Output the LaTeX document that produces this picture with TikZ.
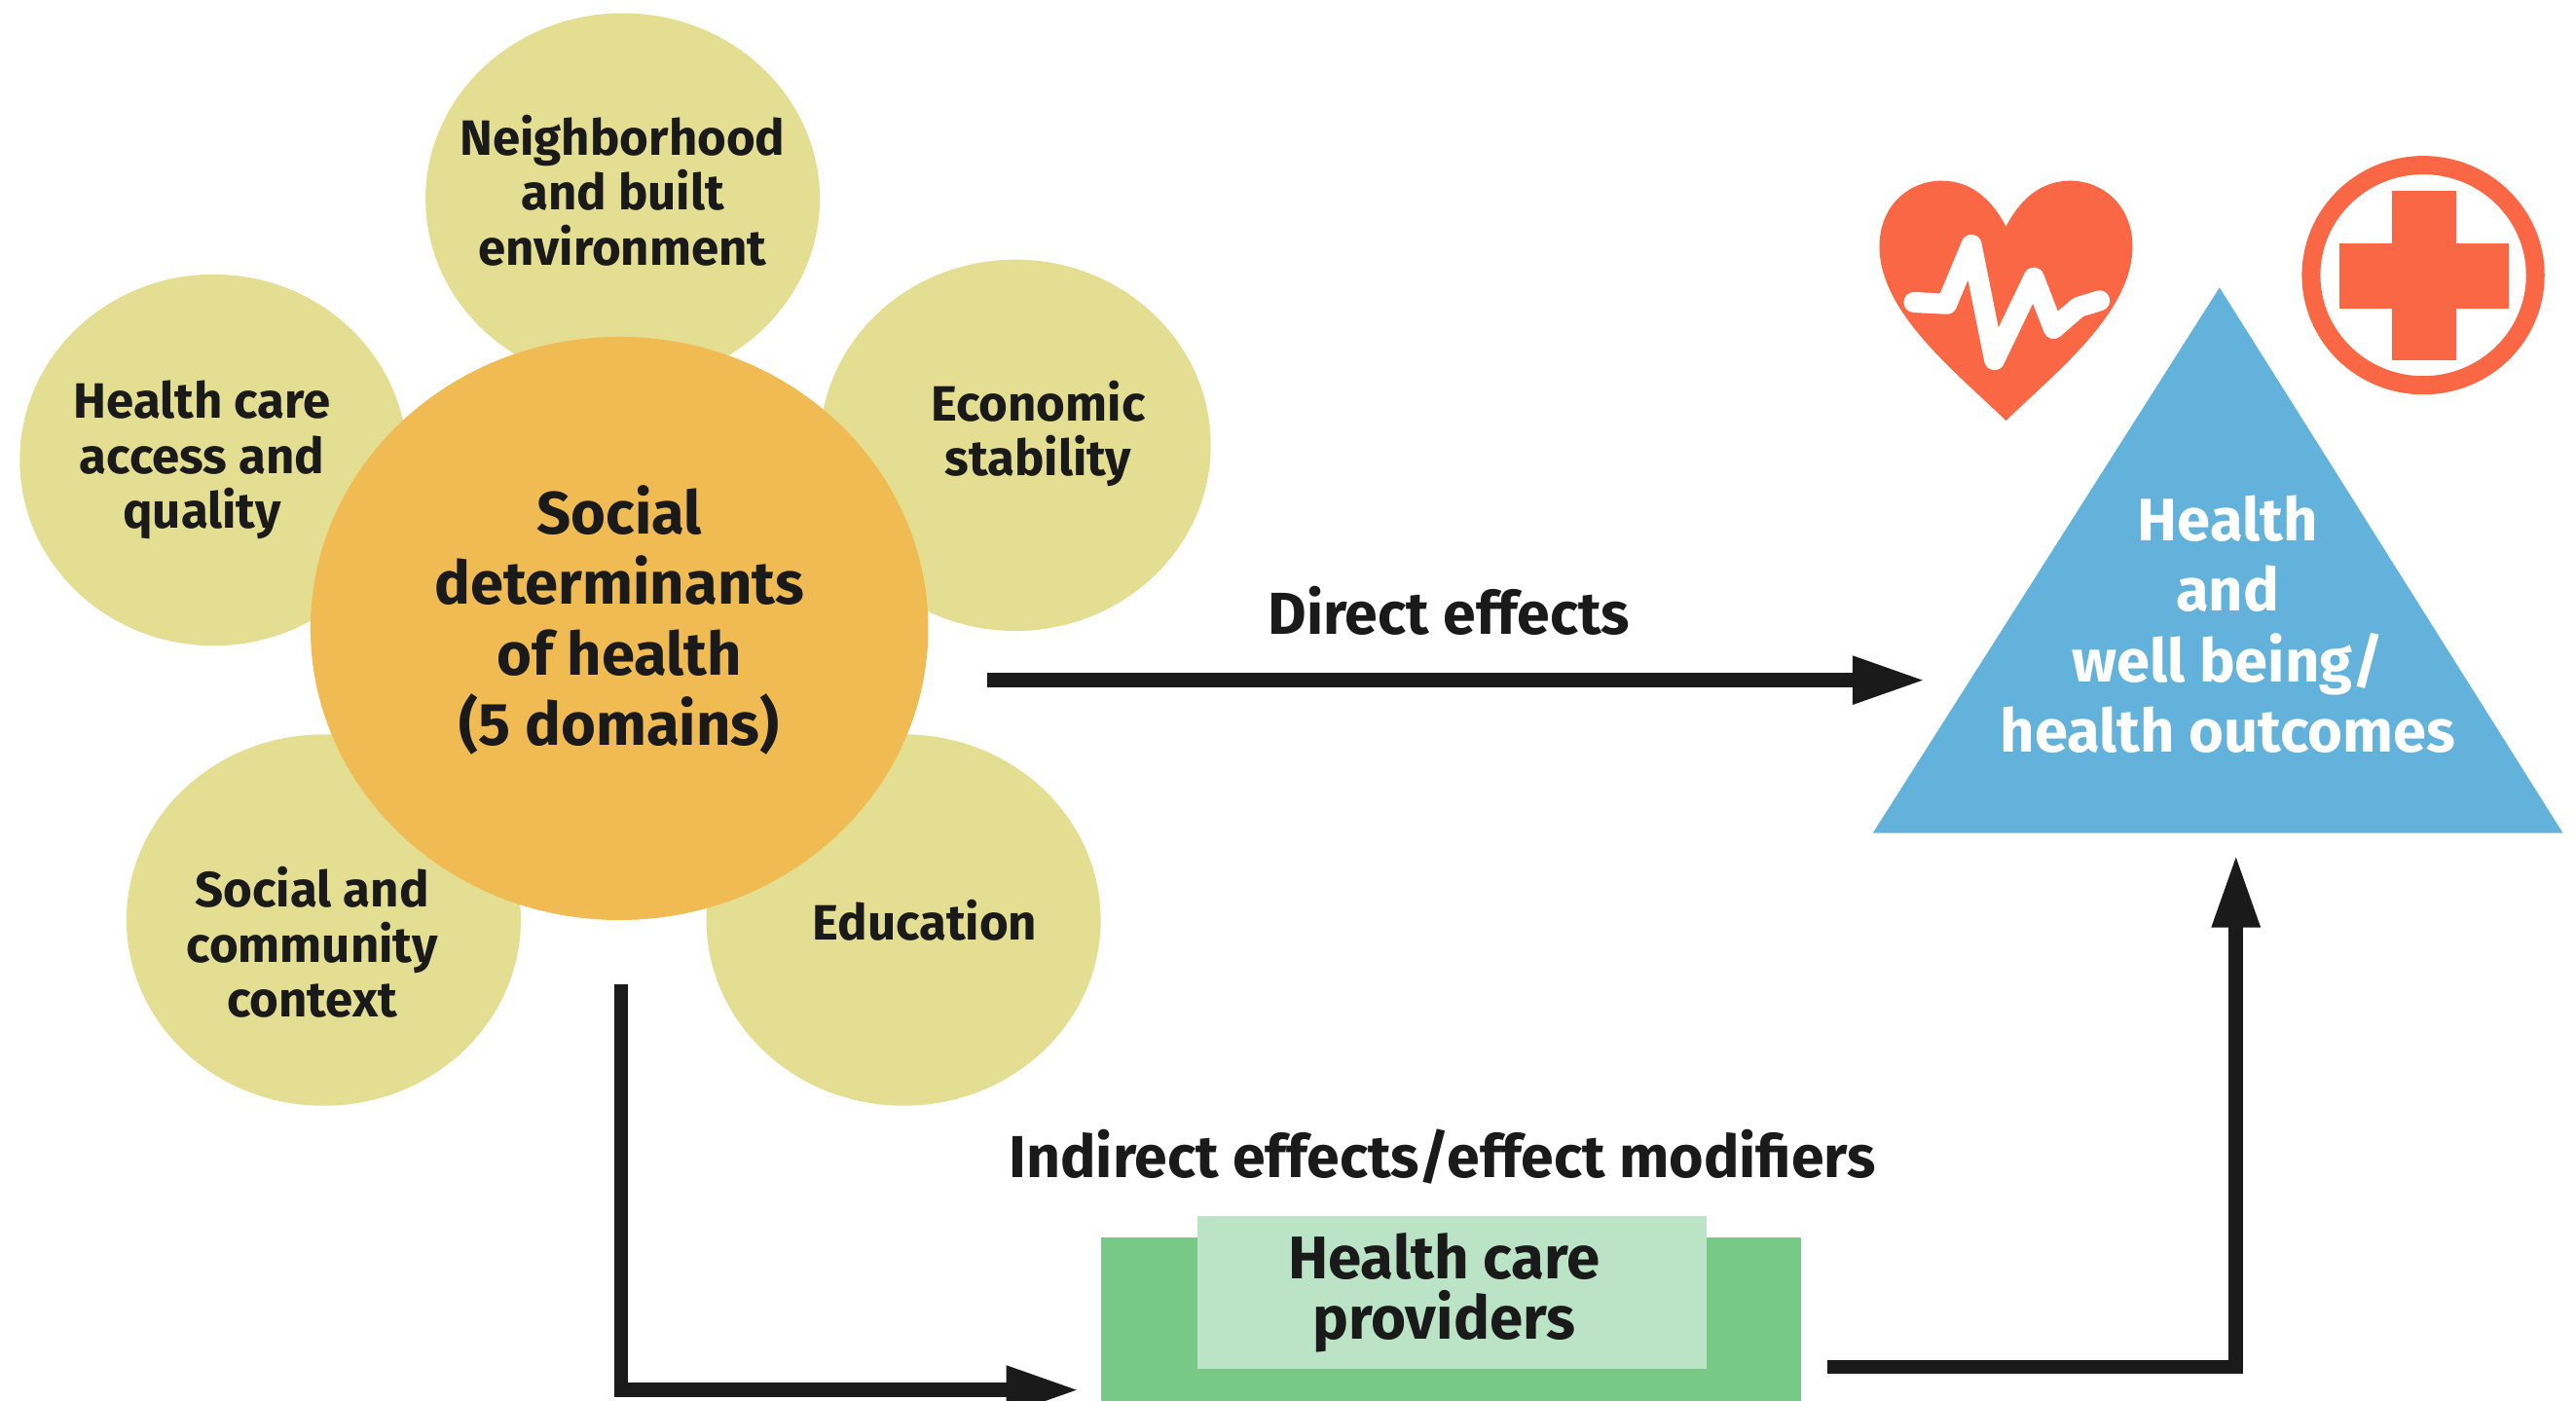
\documentclass[tikz,border=0pt]{standalone}
\usepackage{fontspec}
\setmainfont{Fira Sans}
\usetikzlibrary{arrows.meta,shapes.geometric}
\definecolor{petal}{HTML}{E3DE92}
\definecolor{core}{HTML}{F0BB52}
\definecolor{coral}{HTML}{F96745}
\definecolor{skyblue}{HTML}{62B2DB}
\definecolor{darkgreen}{HTML}{78C985}
\definecolor{lightgreen}{HTML}{BBE4C6}
\definecolor{ink}{HTML}{1A1A1A}
\tikzset{
	petal/.style={ellipse,fill=petal,inner sep=0pt,minimum width=2*#1*0.016875cm,minimum height=2*113*0.016875cm},
	petaltext/.style={text=ink,align=center,font=\fontsize{14.5}{16}\selectfont\bfseries},
	coretext/.style={text=ink,align=center,font=\fontsize{17.5}{20.6}\selectfont\bfseries},
	bluetext/.style={text=white,align=center,font=\fontsize{17.5}{20.6}\selectfont\bfseries},
	effect/.style={text=ink,font=\fontsize{17.3}{20}\selectfont\bfseries},
	link/.style={draw=ink,line width=4.2pt,-{Triangle[length=0.75cm,width=0.46cm]}}
}
\begin{document}
\begin{tikzpicture}[line cap=butt,line join=miter,x=0.016875cm,y=-0.016875cm]
		\useasboundingbox (0,0) rectangle (1568,852.7);
		\clip (0,0) rectangle (1568,852.7);
		% flower
		\node [petal=120] (top) at (379,121) {};
		\node [petal=118] (care) at (130,280) {};
		\node [petal=119] (economic) at (618,271) {};
		\node [petal=120] (community) at (197,560) {};
		\node [petal=120] (education) at (550,560) {};
		\node [ellipse,fill=core,inner sep=0pt,minimum width=376*0.016875cm,minimum height=355*0.016875cm] (core) at (377,382.5) {};
		\node [petaltext] (toplabel) at (379,116) {Neighborhood\\and built\\environment};
		\node [petaltext] (carelabel) at (123,280) {Health care\\access and\\quality};
		\node [petaltext] (economiclabel) at (632,264) {Economic\\stability};
		\node [petaltext] (communitylabel) at (190,573.5) {Social and\\community\\context};
		\node [petaltext] (educationlabel) at (563,560) {Education};
		\node [coretext] (corelabel) at (377,377.5) {Social\\determinants\\of health\\(5 domains)};
		% outcome
		\coordinate (apex) at (1351,175);
		\coordinate (baseleft) at (1140,507);
		\coordinate (baseright) at (1560,507);
		\fill [skyblue] (apex) -- (baseleft) -- (baseright) -- cycle;
		\node [bluetext] (outcome) at (1356,380) {Health\\and\\well being/\\health outcomes};
		% heart
		\fill [coral] (1221,256) .. controls (1190,226) and (1144,190) .. (1144,150) .. controls (1144,125) and (1162,110) .. (1182,110) .. controls (1200,110) and (1213,122) .. (1221,138) .. controls (1229,122) and (1242,110) .. (1260,110) .. controls (1280,110) and (1298,125) .. (1298,150) .. controls (1298,190) and (1252,226) .. (1221,256) -- cycle;
		\draw [white,line width=6pt,line join=round,line cap=round] (1165,184) -- (1185,185) -- (1200,149) -- (1214,219) -- (1238,169) -- (1250,200) -- (1265,187) -- (1278,183);
		% red cross
		\node [ellipse,draw=coral,line width=0.19cm,inner sep=0pt,minimum width=136.5*0.016875cm,minimum height=134*0.016875cm] (ring) at (1475,167.5) {};
		\fill [coral] (1456,116) rectangle (1495,219);
		\fill [coral] (1424,148) rectangle (1527,188);
		% providers
		\fill [darkgreen] (670,753) rectangle (1096,860);
		\node [fill=lightgreen,inner sep=0pt,minimum width=310*0.016875cm,minimum height=93*0.016875cm] (box) at (884,786.5) {};
		\node [effect,align=center,font=\fontsize{17.6}{17.8}\selectfont\bfseries] (providers) at (879,787) {Health care\\providers};
		% effects
		\node [effect] (direct) at (882,372) {Direct effects};
		\node [effect] (indirect) at (878,704) {Indirect effects/effect modifiers};
		\coordinate (directstart) at (601,414);
		\coordinate (directend) at (1172,414);
		\coordinate (downstart) at (378,599);
		\coordinate (downcorner) at (378,846);
		\coordinate (downend) at (657,846);
		\coordinate (upstart) at (1112,832);
		\coordinate (upcorner) at (1361,832);
		\coordinate (upend) at (1361,520);
		\draw [link] (directstart) -- (directend);
		\draw [link] (downstart) -- (downcorner) -- (downend);
		\draw [link] (upstart) -- (upcorner) -- (upend);
\end{tikzpicture}
\end{document}
